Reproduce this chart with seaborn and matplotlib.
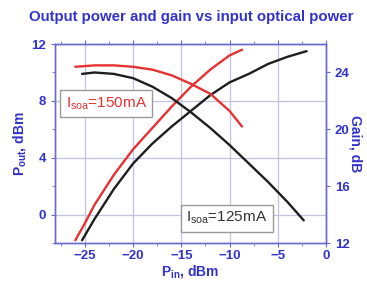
import numpy as np
import pandas as pd
import matplotlib
matplotlib.use("Agg")
import matplotlib.pyplot as plt
import seaborn as sns

# input power (dBm) and curves
pin_pout_150 = [-26.0, -25.0, -24.0, -22.0, -20.0, -18.0, -16.0, -14.0, -12.0, -10.0, -8.7]
pout_150 = [-1.8, -0.6, 0.7, 2.8, 4.6, 6.1, 7.6, 9.0, 10.2, 11.2, 11.6]

pin_pout_125 = [-25.3, -24.0, -22.0, -20.0, -18.0, -16.0, -14.0, -12.0, -10.0, -8.0, -6.0, -4.0, -2.0]
pout_125 = [-1.8, -0.3, 1.8, 3.6, 5.0, 6.2, 7.3, 8.4, 9.3, 9.9, 10.6, 11.1, 11.5]

pin_gain_150 = [-26.0, -24.0, -22.0, -20.0, -18.0, -16.0, -14.0, -12.0, -10.0, -8.7]
gain_150 = [24.4, 24.5, 24.5, 24.4, 24.2, 23.8, 23.2, 22.5, 21.3, 20.2]

pin_gain_125 = [-25.3, -24.0, -22.0, -20.0, -18.0, -16.0, -14.0, -12.0, -10.0, -8.0, -6.0, -4.0, -2.3]
gain_125 = [23.9, 24.0, 23.9, 23.6, 23.0, 22.2, 21.2, 20.1, 18.9, 17.6, 16.3, 14.9, 13.6]

x_ticks = [-25, -20, -15, -10, -5, 0]
left_ticks = [0, 4, 8, 12]
right_ticks = [12, 16, 20, 24]

BLUE = "#3232cc"
SPINE = "#6a6ad0"
GRID = "#c0c4e0"
RED = "#e63232"
BLACK = "#1e1e1e"

sns.set_style("ticks")
plt.rcParams["font.family"] = ["Liberation Sans", "DejaVu Sans"]
plt.rcParams["mathtext.default"] = "regular"

fig = plt.figure(figsize=(3.67, 2.86), dpi=100)
ax = fig.add_axes([0.150, 0.150, 0.738, 0.696])
ax2 = ax.twinx()

sns.lineplot(x=pin_pout_150, y=pout_150, ax=ax, color=RED, lw=1.7, sort=False)
sns.lineplot(x=pin_pout_125, y=pout_125, ax=ax, color=BLACK, lw=1.7, sort=False)
sns.lineplot(x=pin_gain_150, y=gain_150, ax=ax2, color=RED, lw=1.7, sort=False)
sns.lineplot(x=pin_gain_125, y=gain_125, ax=ax2, color=BLACK, lw=1.7, sort=False)

ax.set_xlim(-28.1, 0)
ax.set_ylim(-2, 12)
ax2.set_ylim(12, 26)

ax.set_xticks(x_ticks)
ax.set_xticks(np.arange(-27.5, 0, 5), minor=True)
ax.set_yticks(left_ticks)
ax.set_yticks([-2, 2, 6, 10], minor=True)
ax2.set_yticks(right_ticks)

ax.grid(True, which="major", color=GRID, lw=0.9)
ax.set_axisbelow(True)

for a in (ax, ax2):
    for s in a.spines.values():
        s.set_color(SPINE)
        s.set_linewidth(1.0)
    a.tick_params(colors=SPINE, labelcolor=BLUE, labelsize=9.5, length=3, width=0.8)
    a.tick_params(which="minor", colors=SPINE, length=2, width=0.6)
    for lbl in a.get_xticklabels() + a.get_yticklabels():
        lbl.set_fontweight("bold")
ax.tick_params(axis="x", top=True, which="both", direction="out")
ax.tick_params(axis="x", pad=2)

ax.set_xlabel(r"P$_{in}$, dBm", color=BLUE, fontsize=10, fontweight="bold", labelpad=1)
ax.set_ylabel(r"P$_{out}$, dBm", color=BLUE, fontsize=10, fontweight="bold", labelpad=2)
ax2.set_ylabel("Gain, dB", color=BLUE, fontsize=10, fontweight="bold", rotation=270, labelpad=9)

fig.text(0.52, 0.94, "Output power and gain vs input optical power", color=BLUE,
         fontsize=10.8, fontweight="bold", ha="center", va="center")

box = dict(boxstyle="square,pad=0.35", fc="white", ec="#9a9a9a", lw=1.0)
ax.text(-27.0, 7.8, r"I$_{soa}$=150mA ", color=RED, fontsize=11, ha="left", va="center", bbox=box)
ax.text(-14.5, -0.25, r"I$_{soa}$=125mA", color="#333333", fontsize=11, ha="left", va="center", bbox=box)

fig.savefig("out.png", dpi=100)
